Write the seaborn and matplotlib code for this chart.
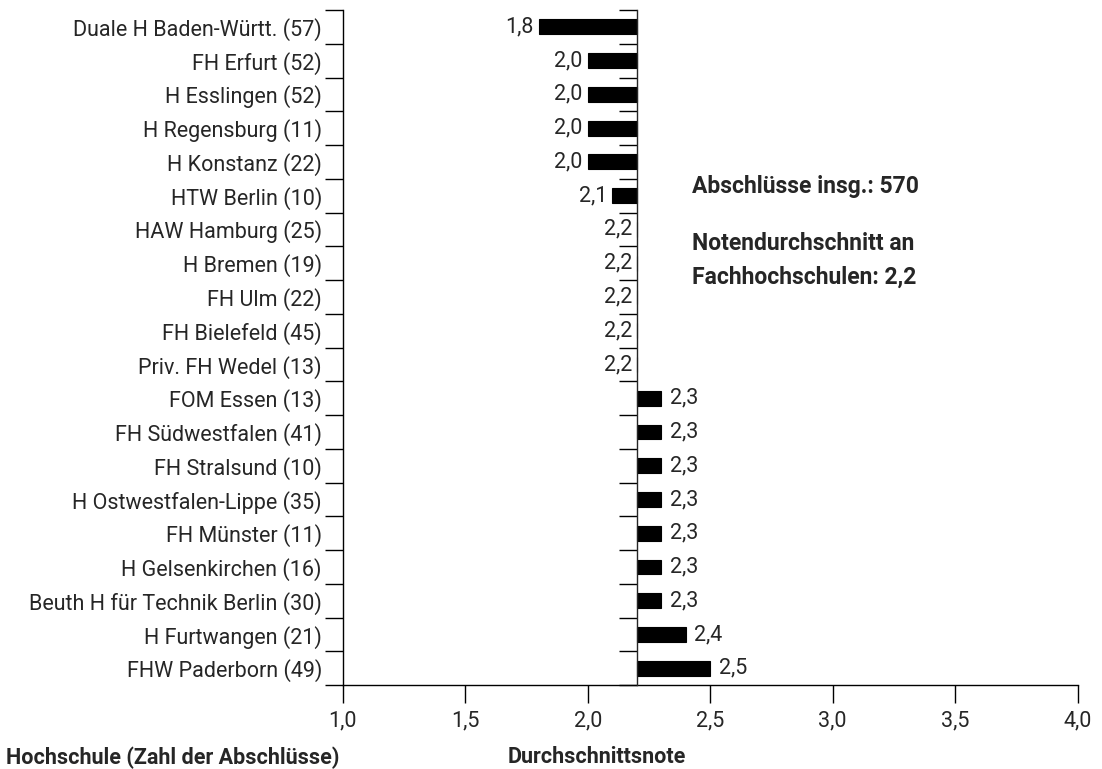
import matplotlib
matplotlib.use('Agg')
import matplotlib.pyplot as plt
import seaborn as sns
import numpy as np

# Hochschulen with number of degrees, top to bottom
hochschulen = [
    'Duale H Baden-Württ. (57)', 'FH Erfurt (52)', 'H Esslingen (52)',
    'H Regensburg (11)', 'H Konstanz (22)', 'HTW Berlin (10)',
    'HAW Hamburg (25)', 'H Bremen (19)', 'FH Ulm (22)', 'FH Bielefeld (45)',
    'Priv. FH Wedel (13)', 'FOM Essen (13)', 'FH Südwestfalen (41)',
    'FH Stralsund (10)', 'H Ostwestfalen-Lippe (35)', 'FH Münster (11)',
    'H Gelsenkirchen (16)', 'Beuth H für Technik Berlin (30)',
    'H Furtwangen (21)', 'FHW Paderborn (49)',
]
noten = [1.8, 2.0, 2.0, 2.0, 2.0, 2.1, 2.2, 2.2, 2.2, 2.2, 2.2,
         2.3, 2.3, 2.3, 2.3, 2.3, 2.3, 2.3, 2.4, 2.5]
schnitt = 2.2
x_ticks = [1.0, 1.5, 2.0, 2.5, 3.0, 3.5, 4.0]

sns.set_style('ticks')
plt.rcParams['font.family'] = ['Roboto', 'DejaVu Sans']
FS = 15.5

fig = plt.figure(figsize=(11.02, 7.69), dpi=100)
ax = fig.add_axes([0.311, 0.109, 0.667, 0.878])

diffs = [n - schnitt for n in noten]
sns.barplot(x=diffs, y=hochschulen, orient='h', left=schnitt, color='black',
            width=0.44, edgecolor='black', linewidth=0.8, saturation=1, ax=ax)

n = len(hochschulen)
ax.set_xlim(1.0, 4.0)
ax.set_ylim(n - 0.5, -0.5)

# category labels at centres, tick marks at boundaries
bounds = np.arange(n + 1) - 0.5
ax.set_yticks(bounds)
ax.set_yticklabels([])
ax.set_yticks(np.arange(n), minor=True)
ax.set_yticklabels(hochschulen, minor=True, fontsize=FS)
ax.tick_params(axis='y', which='minor', length=0, pad=15)
ax.tick_params(axis='y', which='major', length=13, width=1, color='black')

ax.set_xticks(x_ticks)
ax.set_xticklabels([f'{t:.1f}'.replace('.', ',') for t in x_ticks], fontsize=FS)
ax.tick_params(axis='x', length=13, width=1, pad=5, color='black')
ax.set_xlabel('')
ax.set_ylabel('')

for s in ['top', 'right']:
    ax.spines[s].set_visible(False)
for s in ['left', 'bottom']:
    ax.spines[s].set_linewidth(1)
    ax.spines[s].set_color('black')

# second axis line at the overall average
ax2 = ax.twinx()
ax2.set_ylim(ax.get_ylim())
for s in ['top', 'left', 'bottom']:
    ax2.spines[s].set_visible(False)
ax2.spines['right'].set_position(('data', schnitt))
ax2.spines['right'].set_linewidth(1)
ax2.set_yticks(bounds)
ax2.set_yticklabels([])
ax2.tick_params(axis='y', direction='in', length=13, width=1, color='black')

# value labels
for i, v in enumerate(noten):
    txt = f'{v:.1f}'.replace('.', ',')
    if v < schnitt + 1e-9:
        ax.annotate(txt, (min(v, schnitt), i), xytext=(-3.5, 0), textcoords='offset points',
                    ha='right', va='center', fontsize=FS)
    else:
        ax.annotate(txt, (v, i), xytext=(6, 0), textcoords='offset points',
                    ha='left', va='center', fontsize=FS)

ax.text(2.425, 4.72, 'Abschlüsse insg.: 570', fontsize=16.5, fontweight='bold',
        ha='left', va='center')
ax.text(2.425, 6.92, 'Notendurchschnitt an\nFachhochschulen: 2,2', fontsize=16.5,
        fontweight='bold', ha='left', va='center', linespacing=1.6)

fig.text(0.005, 0.015, 'Hochschule (Zahl der Abschlüsse)', fontsize=FS,
         fontweight='bold', ha='left', va='center')
fig.text(0.461, 0.015, 'Durchschnittsnote', fontsize=FS, fontweight='bold',
         ha='left', va='center')

fig.savefig('out.png', dpi=100)
